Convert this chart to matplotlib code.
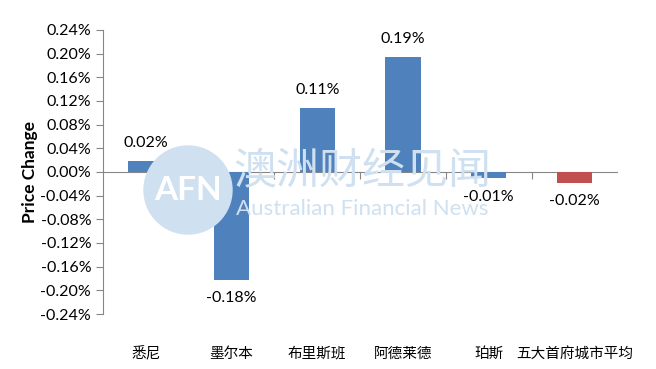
import matplotlib.pyplot as plt
from matplotlib.patches import Ellipse
from matplotlib.transforms import blended_transform_factory

plt.rcParams['font.family'] = ['Lato', 'Noto Sans CJK SC', 'DejaVu Sans']

# 数据（单位：%）
cities = ["悉尼", "墨尔本", "布里斯班", "阿德莱德", "珀斯", "五大首府城市平均"]
changes = [0.018, -0.183, 0.108, 0.194, -0.011, -0.019]
labels = ["0.02%", "-0.18%", "0.11%", "0.19%", "-0.01%", "-0.02%"]
bar_colors = ["#4F81BD", "#4F81BD", "#4F81BD", "#4F81BD", "#4F81BD", "#C0504D"]
yticks = [-0.24, -0.20, -0.16, -0.12, -0.08, -0.04, 0.0, 0.04, 0.08, 0.12, 0.16, 0.20, 0.24]

W, H = 656, 369
fig = plt.figure(figsize=(W / 100, H / 100), dpi=100)
ax = fig.add_axes([0.157, 0.149, 0.784, 0.770])

# 水印
wm = "#CFE0F1"
fig.patches.append(Ellipse((188 / W, 1 - 190 / H), 88 / W, 88 / H, transform=fig.transFigure,
                           color=wm, zorder=0))
fig.text(188 / W, 1 - 190 / H, "AFN", color="white", fontsize=24, ha="center", va="center",
         fontweight="bold", zorder=1)
fig.text(362 / W, 1 - 170 / H, "澳洲财经见闻", color=wm, fontsize=31, ha="center",
         va="center", zorder=1)
fig.text(362 / W, 1 - 209 / H, "Australian Financial News", color=wm, fontsize=16,
         ha="center", va="center", zorder=1)
ax.patch.set_alpha(0)

x = range(len(cities))
ax.bar(x, changes, width=0.41, color=bar_colors, zorder=3)

for i, (v, lab) in enumerate(zip(changes, labels)):
    off = 8 if v >= 0 else -8
    ax.annotate(lab, (i, v), xytext=(0, off), textcoords="offset points",
                ha="center", va="bottom" if v >= 0 else "top", fontsize=11.5, zorder=4)

ax.set_xlim(-0.5, len(cities) - 0.5)
ax.set_ylim(-0.24, 0.24)
ax.set_yticks(yticks)
ax.set_yticklabels([f"{t:.2f}%" for t in yticks], fontsize=11.5)

ax.spines["top"].set_visible(False)
ax.spines["right"].set_visible(False)
ax.spines["bottom"].set_position(("data", 0))
for s in ["left", "bottom"]:
    ax.spines[s].set_color("#868686")
ax.tick_params(axis="y", direction="out", length=5, color="#868686")

ax.set_xticks([i + 0.5 for i in range(len(cities) - 1)])
ax.set_xticklabels([])
ax.tick_params(axis="x", direction="out", length=5, color="#868686")

trans = blended_transform_factory(ax.transData, ax.transAxes)
for i, c in enumerate(cities):
    ax.text(i, -0.14, c, transform=trans, ha="center", va="center", fontsize=10.5)

ax.set_ylabel("Price Change", fontsize=12.5, fontweight="bold", labelpad=2)

fig.savefig("out.png", dpi=100)
